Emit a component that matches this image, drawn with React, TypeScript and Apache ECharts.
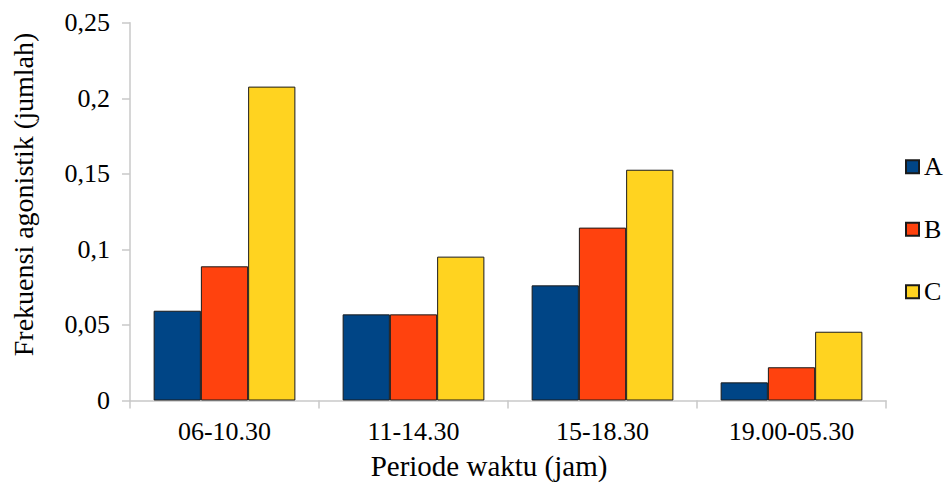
import React, { useEffect, useRef } from "react";
import * as echarts from "echarts";

const categories = ["06-10.30", "11-14.30", "15-18.30", "19.00-05.30"];
const seriesNames = ["A", "B", "C"];
const valuesA = [0.0594, 0.057, 0.0762, 0.012];
const valuesB = [0.0888, 0.057, 0.1144, 0.022];
const valuesC = [0.2077, 0.0952, 0.1527, 0.0455];
const colors = ["#004586", "#ff420e", "#ffd320"];
const yTitle = "Frekuensi agonistik (jumlah)";
const xTitle = "Periode waktu (jam)";

const FONT = "Liberation Serif";

export default function App() {
  const ref = useRef<HTMLDivElement>(null);
  useEffect(() => {
    if (!ref.current) return;
    const chart = echarts.init(ref.current, null, { renderer: "svg" });
    const data = [valuesA, valuesB, valuesC];
    chart.setOption({
      animation: false,
      backgroundColor: "#ffffff",
      textStyle: { fontFamily: FONT },
      grid: { left: 130, right: 59, top: 22.7, bottom: 84.5, containLabel: false },
      legend: {
        orient: "vertical",
        left: 905,
        top: 153.7,
        padding: 0,
        itemWidth: 13,
        itemHeight: 13,
        itemGap: 36.5,
        icon: "rect",
        textStyle: { fontFamily: FONT, fontSize: 26, color: "#000", lineHeight: 26 },
        data: seriesNames,
      },
      xAxis: {
        type: "category",
        data: categories,
        axisLine: { lineStyle: { color: "#c8c8c8", width: 1.5 } },
        axisTick: { show: true, length: 8, alignWithLabel: false, lineStyle: { color: "#c8c8c8", width: 1.5 } },
        axisLabel: { fontFamily: FONT, fontSize: 26, color: "#000", margin: 18 },
        splitLine: { show: false },
      },
      yAxis: {
        type: "value",
        min: 0,
        max: 0.25,
        interval: 0.05,
        axisLine: { show: true, lineStyle: { color: "#c8c8c8", width: 1.5 } },
        axisTick: { show: true, length: 8, lineStyle: { color: "#c8c8c8", width: 1.5 } },
        axisLabel: {
          fontFamily: FONT,
          fontSize: 26,
          color: "#000",
          margin: 20,
          formatter: (v: number) => String(Math.round(v * 100) / 100).replace(".", ","),
        },
        splitLine: { show: false },
      },
      graphic: [
        {
          type: "text",
          x: 23,
          y: 194.5,
          rotation: Math.PI / 2,
          style: {
            text: yTitle,
            fontFamily: FONT,
            fontSize: 28,
            fill: "#000",
            align: "center",
            verticalAlign: "middle",
          },
        },
        {
          type: "text",
          x: 489,
          y: 466,
          style: {
            text: xTitle,
            fontFamily: FONT,
            fontSize: 29,
            fill: "#000",
            align: "center",
            verticalAlign: "middle",
          },
        },
      ],
      series: seriesNames.map((name, i) => ({
        name,
        type: "bar",
        data: data[i],
        barGap: "0%",
        barCategoryGap: "25%",
        itemStyle: { color: colors[i], borderColor: "#1a1a1a", borderWidth: 1 },
        emphasis: { disabled: true },
      })),
    });
    return () => chart.dispose();
  }, []);
  return <div ref={ref} style={{ width: 945, height: 485, position: "absolute", left: 0, top: 0 }} />;
}
